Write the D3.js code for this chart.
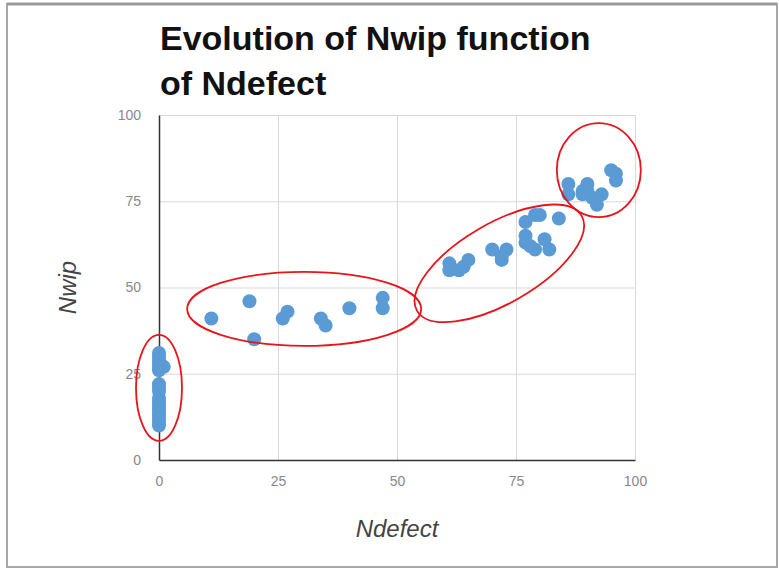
<!DOCTYPE html>
<html>
<head>
<meta charset="utf-8">
<script src="https://cdn.jsdelivr.net/npm/d3@7"></script>
<style>
  body { margin: 0; background: #fff; }
  svg { display: block; }
</style>
</head>
<body>
<div id="chart"></div>
<script>
// Chart data
var ndefect = [
  0, 0, 0, 0, 0, 0, 0, 0, 0, 0, 0, 0, 0, 0, 0, 0, 0, 0, 1,
  11, 19, 20, 26, 27, 34, 35, 40, 47, 47,
  61, 61, 63, 64, 65, 70, 72, 72, 73, 77, 77, 77, 78, 79, 79, 80, 81, 82, 84,
  86, 86, 89, 89, 90, 90, 91, 92, 93, 95, 96, 96
];
var nwip = [
  31, 30, 29, 28, 27, 26, 22, 21, 20, 18, 17, 16, 15, 14, 13, 12, 11, 10, 27,
  41, 46, 35, 41, 43, 41, 39, 44, 47, 44,
  57, 55, 55, 56, 58, 61, 58, 59, 61, 69, 65, 63, 62, 61, 71, 71, 64, 61, 70,
  80, 77, 77, 78, 80, 78, 76, 74, 77, 84, 83, 81
];
var xTicks = [0, 25, 50, 75, 100];
var yTicks = [0, 25, 50, 75, 100];
var titleLines = ["Evolution of Nwip function", "of Ndefect"];

// Red hand-drawn groups: centre in data units, radii in pixels
var groupCx = [0, 30.5, 71.5, 92.4];
var groupCy = [20.9, 43.8, 57, 84];
var groupRx = [23, 117, 95, 42];
var groupRy = [53, 37, 40, 47];
var groupRot = [0, 0, -30, 0];

// Page parameters
var width = 779;
var height = 569;
var plotLeft = 159;
var plotRight = 635;
var plotTop = 115;
var plotBottom = 460;

var svg = d3.select("#chart")
  .append("svg")
  .attr("width", width)
  .attr("height", height);

// Screenshot frame
svg.append("rect")
  .attr("x", 7).attr("y", 4)
  .attr("width", 770).attr("height", 563)
  .attr("fill", "none")
  .attr("stroke", "#a8a8a8")
  .attr("stroke-width", 2);
svg.append("line")
  .attr("x1", 7).attr("x2", 777)
  .attr("y1", 4).attr("y2", 4)
  .attr("stroke", "#999")
  .attr("stroke-width", 3);

// Title
svg.append("g")
  .selectAll("text")
  .data(titleLines)
  .enter()
  .append("text")
  .attr("x", 160)
  .attr("y", function(d, i) { return 50 + i * 45; })
  .attr("font-family", "Liberation Sans, Arial, sans-serif")
  .attr("font-weight", "bold")
  .attr("font-size", 34)
  .attr("fill", "#111")
  .text(function(d) { return d; });

// Scales
var xScale = d3.scaleLinear().domain([0, 100]).range([plotLeft, plotRight]);
var yScale = d3.scaleLinear().domain([0, 100]).range([plotBottom, plotTop]);

// Grid lines
var grid = svg.append("g").attr("stroke", "#d9d9d9").attr("stroke-width", 1);
grid.selectAll("line.gx")
  .data(xTicks.slice(1))
  .enter()
  .append("line")
  .attr("x1", function(d) { return xScale(d) + 0.5; })
  .attr("x2", function(d) { return xScale(d) + 0.5; })
  .attr("y1", plotTop)
  .attr("y2", plotBottom);
grid.selectAll("line.gy")
  .data(yTicks.slice(1))
  .enter()
  .append("line")
  .attr("x1", plotLeft)
  .attr("x2", plotRight)
  .attr("y1", function(d) { return yScale(d) + 0.5; })
  .attr("y2", function(d) { return yScale(d) + 0.5; });

// Axes
var xAxis = d3.axisBottom(xScale).tickValues(xTicks).tickSize(0).tickPadding(16);
var yAxis = d3.axisLeft(yScale).tickValues(yTicks).tickSize(0).tickPadding(18);

var gx = svg.append("g")
  .attr("transform", "translate(0," + plotBottom + ")")
  .call(xAxis);
var gy = svg.append("g")
  .attr("transform", "translate(" + plotLeft + ",0)")
  .call(yAxis);

[gx, gy].forEach(function(g) {
  g.select(".domain").attr("stroke", "#333").attr("stroke-width", 1.5);
  g.selectAll("text")
    .attr("font-family", "Liberation Sans, Arial, sans-serif")
    .attr("font-size", 14)
    .attr("fill", "#888");
});

// Axis titles
svg.append("text")
  .attr("x", (plotLeft + plotRight) / 2)
  .attr("y", 537)
  .attr("text-anchor", "middle")
  .attr("font-family", "Liberation Sans, Arial, sans-serif")
  .attr("font-style", "italic")
  .attr("font-size", 24)
  .attr("fill", "#444")
  .text("Ndefect");
svg.append("text")
  .attr("transform", "translate(76," + (plotTop + plotBottom) / 2 + ")rotate(-90)")
  .attr("text-anchor", "middle")
  .attr("font-family", "Liberation Sans, Arial, sans-serif")
  .attr("font-style", "italic")
  .attr("font-size", 24)
  .attr("fill", "#444")
  .text("Nwip");

// Points
svg.append("g")
  .selectAll("circle")
  .data(ndefect)
  .enter()
  .append("circle")
  .attr("cx", function(d) { return xScale(d); })
  .attr("cy", function(d, i) { return yScale(nwip[i]); })
  .attr("r", 7)
  .attr("fill", "#5b9bd5");

// Red group ellipses
svg.append("g")
  .selectAll("ellipse")
  .data(groupCx)
  .enter()
  .append("ellipse")
  .attr("transform", function(d, i) {
    return "translate(" + xScale(d) + "," + yScale(groupCy[i]) + ")rotate(" + groupRot[i] + ")";
  })
  .attr("rx", function(d, i) { return groupRx[i]; })
  .attr("ry", function(d, i) { return groupRy[i]; })
  .attr("fill", "none")
  .attr("stroke", "#e8141b")
  .attr("stroke-width", 1.8);
</script>
</body>
</html>
